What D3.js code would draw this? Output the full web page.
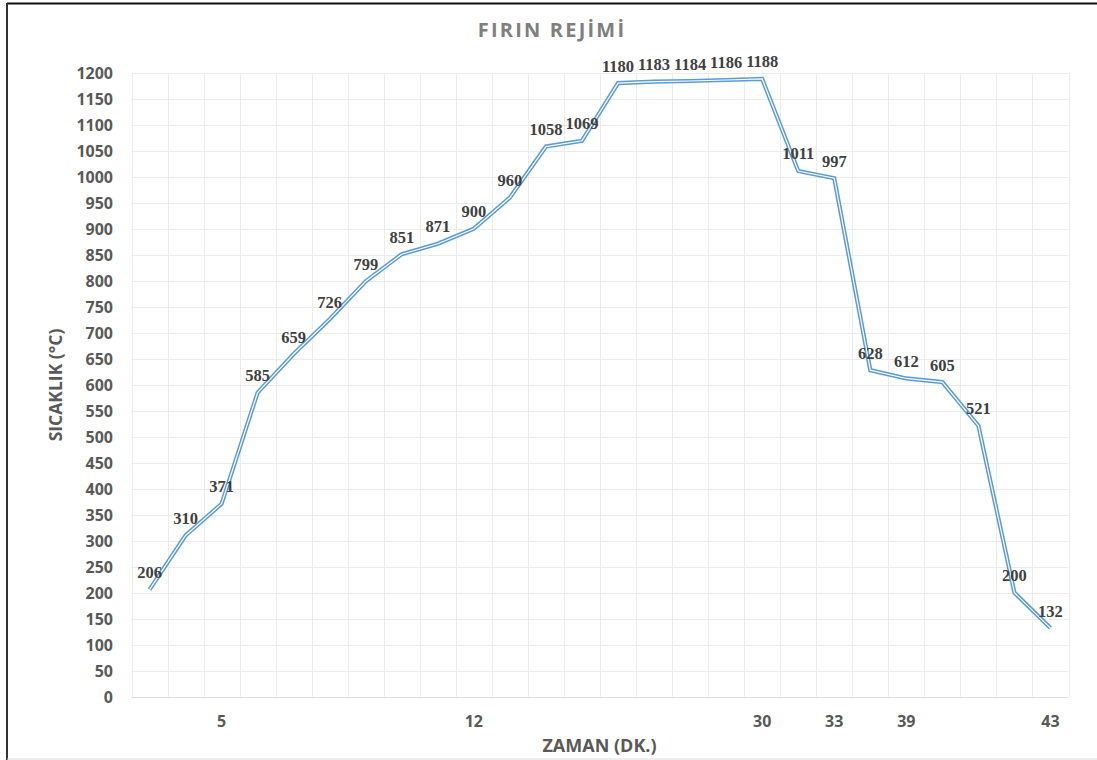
<!DOCTYPE html>
<html>
<head>
<meta charset="utf-8">
<script src="https://cdn.jsdelivr.net/npm/d3@7"></script>
<style>
  html, body { margin: 0; padding: 0; background: #fff; }
  svg { display: block; }
</style>
</head>
<body>
<svg id="chart" width="1097" height="760"></svg>
<script>
// Oven temperature readings over time
const temperatures = [206, 310, 371, 585, 659, 726, 799, 851, 871, 900, 960, 1058, 1069,
  1180, 1183, 1184, 1186, 1188, 1011, 997, 628, 612, 605, 521, 200, 132];
// Time labels shown under some of the readings (minutes)
const timeLabels = ["", "", "5", "", "", "", "", "", "", "12", "", "", "",
  "", "", "", "", "30", "", "33", "", "39", "", "", "", "43"];
const yTicks = d3.range(0, 1201, 50);

const titleText = "FIRIN REJİMİ";
const xTitle = "ZAMAN (DK.)";
const yTitle = "SICAKLIK (°C)";

const svg = d3.select("#chart");
const W = 1097, H = 760;
const plot = { left: 131.5, right: 1068.5, top: 72.7, bottom: 696.7 };

// outer chart frame
svg.append("rect").attr("x", 0).attr("y", 0).attr("width", W).attr("height", H).attr("fill", "#fff");
svg.append("line").attr("x1", 7).attr("x2", W).attr("y1", 3.5).attr("y2", 3.5)
  .attr("stroke", "#111").attr("stroke-width", 2);
svg.append("line").attr("x1", 7).attr("x2", 7).attr("y1", 3).attr("y2", H)
  .attr("stroke", "#333").attr("stroke-width", 2);
svg.append("line").attr("x1", 7).attr("x2", W).attr("y1", 759).attr("y2", 759)
  .attr("stroke", "#ddd").attr("stroke-width", 1);

const idx = temperatures.map((_, i) => i);
const x = d3.scaleBand().domain(idx).range([plot.left, plot.right]).padding(0);
const y = d3.scaleLinear().domain([0, 1200]).range([plot.bottom, plot.top]);

// horizontal gridlines
svg.append("g").selectAll("line").data(yTicks).join("line")
  .attr("x1", plot.left).attr("x2", plot.right)
  .attr("y1", d => Math.round(y(d)) + 0.5).attr("y2", d => Math.round(y(d)) + 0.5)
  .attr("stroke", d => d === 0 ? "#dcdcdc" : "#ececec").attr("stroke-width", 1);

// vertical gridlines at category boundaries
const bounds = idx.map(i => x(i)).concat([plot.right]);
svg.append("g").selectAll("line").data(bounds).join("line")
  .attr("x1", d => Math.round(d) + 0.5).attr("x2", d => Math.round(d) + 0.5)
  .attr("y1", plot.top).attr("y2", plot.bottom)
  .attr("stroke", "#ececec").attr("stroke-width", 1);

// y axis labels
const yAxis = d3.axisLeft(y).tickValues(yTicks).tickFormat(d3.format("d")).tickSize(0).tickPadding(0);
const gy = svg.append("g").attr("transform", "translate(113,0)").call(yAxis);
gy.select(".domain").remove();
gy.selectAll("text")
  .attr("font-family", "'Open Sans', sans-serif").attr("font-weight", 700)
  .attr("font-size", 16).attr("fill", "#595959").attr("dy", "0.36em");

// x axis labels
const xAxis = d3.axisBottom(x).tickSize(0).tickPadding(0).tickFormat(i => timeLabels[i]);
const gx = svg.append("g").attr("transform", `translate(0,${plot.bottom})`).call(xAxis);
gx.select(".domain").remove();
gx.selectAll("text")
  .attr("font-family", "'Open Sans', sans-serif").attr("font-weight", 700)
  .attr("font-size", 16).attr("fill", "#595959").attr("y", 25).attr("dy", "0.36em");

// temperature line, drawn as a double stroke
const line = d3.line().x((d, i) => x(i) + x.bandwidth() / 2).y(d => y(d));
svg.append("path").datum(temperatures).attr("d", line)
  .attr("fill", "none").attr("stroke", "#5b9bd5").attr("stroke-width", 4.2)
  .attr("stroke-linejoin", "miter");
svg.append("path").datum(temperatures).attr("d", line)
  .attr("fill", "none").attr("stroke", "#ffffff").attr("stroke-width", 1.2)
  .attr("stroke-linejoin", "miter");

// value labels
svg.append("g").selectAll("text").data(temperatures).join("text")
  .attr("x", (d, i) => x(i) + x.bandwidth() / 2)
  .attr("y", d => y(d) - 11.5)
  .attr("text-anchor", "middle")
  .attr("font-family", "'Liberation Serif', 'Times New Roman', serif")
  .attr("font-weight", 700).attr("font-size", 16.5).attr("fill", "#404040")
  .text(d => d);

// titles
svg.append("text").attr("x", 552).attr("y", 37).attr("text-anchor", "middle")
  .attr("font-family", "'Open Sans', sans-serif").attr("font-weight", 700)
  .attr("font-size", 20).attr("letter-spacing", 2.2).attr("fill", "#7f7f7f")
  .text(titleText);
svg.append("text").attr("x", 599.5).attr("y", 752).attr("text-anchor", "middle")
  .attr("font-family", "'Open Sans', sans-serif").attr("font-weight", 700)
  .attr("font-size", 18).attr("fill", "#595959")
  .text(xTitle);
svg.append("text").attr("transform", "translate(62,385) rotate(-90)").attr("text-anchor", "middle")
  .attr("font-family", "'Open Sans', sans-serif").attr("font-weight", 700)
  .attr("font-size", 17.5).attr("fill", "#595959")
  .text(yTitle);
</script>
</body>
</html>
